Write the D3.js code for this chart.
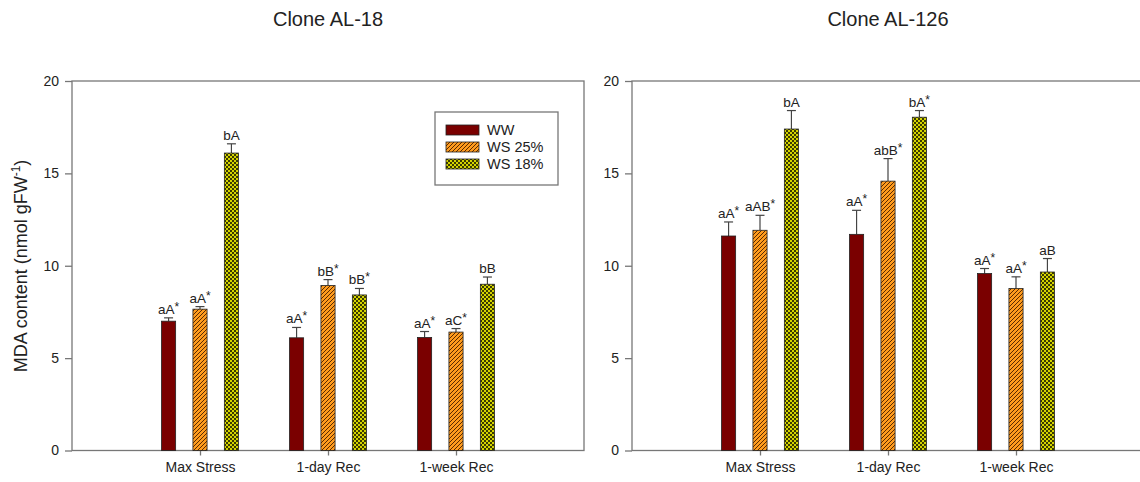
<!DOCTYPE html>
<html>
<head>
<meta charset="utf-8">
<script src="https://cdn.jsdelivr.net/npm/d3@7"></script>
<style>
  body { margin: 0; background: #fff; }
  svg { display: block; font-family: "Liberation Sans", Arial, sans-serif; }
</style>
</head>
<body>
<div id="root"></div>
<script>
// data
var categories = ['Max Stress', '1-day Rec', '1-week Rec']
var seriesNames = ['WW', 'WS 25%', 'WS 18%']
var yTicks = [0, 5, 10, 15, 20]

var al18Mean = [[7.0, 7.65, 16.1], [6.1, 8.93, 8.42], [6.12, 6.41, 9.0]]
var al18Err = [[0.18, 0.14, 0.5], [0.56, 0.32, 0.35], [0.32, 0.19, 0.39]]
var al18Lab = [['aA*', 'aA*', 'bA'], ['aA*', 'bB*', 'bB*'], ['aA*', 'aC*', 'bB']]

var al126Mean = [[11.61, 11.92, 17.4], [11.7, 14.58, 18.04], [9.58, 8.77, 9.66]]
var al126Err = [[0.76, 0.81, 1.0], [1.3, 1.22, 0.36], [0.27, 0.63, 0.73]]
var al126Lab = [['aA*', 'aAB*', 'bA'], ['aA*', 'abB*', 'bA*'], ['aA*', 'aA*', 'aB']]

var W = 1140, H = 482
var svg = d3.select('#root').append('svg').attr('width', W).attr('height', H)

var defs = svg.append('defs')
// orange hatch
var p1 = defs.append('pattern').attr('id', 'hatch').attr('patternUnits', 'userSpaceOnUse')
    .attr('width', 4).attr('height', 4)
p1.append('rect').attr('width', 4).attr('height', 4).attr('fill', '#ff9c1e')
p1.append('path').attr('d', 'M-1,1 l2,-2 M0,4 l4,-4 M3,5 l2,-2')
    .attr('stroke', '#5a2a00').attr('stroke-width', 1)
// green checker
var p2 = defs.append('pattern').attr('id', 'check').attr('patternUnits', 'userSpaceOnUse')
    .attr('width', 4).attr('height', 4)
p2.append('rect').attr('width', 4).attr('height', 4).attr('fill', '#d4d400')
p2.append('rect').attr('width', 2).attr('height', 2).attr('fill', '#3a3a00')
p2.append('rect').attr('x', 2).attr('y', 2).attr('width', 2).attr('height', 2).attr('fill', '#3a3a00')

var fills = ['#7a0000', 'url(#hatch)', 'url(#check)']
var axisCol = '#777'

function panel(x0, title, means, errs, labs) {
    var pw = 512, top = 81, bottom = 450.5
    var g = svg.append('g')
    var x = d3.scaleLinear().domain([0, 4]).range([x0, x0 + pw])
    var y = d3.scaleLinear().domain([0, 20]).range([bottom, top])
    var off = d3.scaleBand().domain(seriesNames).range([-38.5, 38.5]).paddingInner(0.55)

    g.append('text').attr('x', x0 + pw / 2).attr('y', 26).attr('text-anchor', 'middle')
        .attr('font-size', 20).attr('fill', '#222').text(title)

    // box
    g.append('rect').attr('x', x0).attr('y', top).attr('width', pw).attr('height', bottom - top)
        .attr('fill', 'none').attr('stroke', axisCol).attr('stroke-width', 1.3)

    var ya = g.append('g').attr('transform', 'translate(' + x0 + ',0)')
        .call(d3.axisLeft(y).tickValues(yTicks).tickSize(7).tickPadding(6))
    ya.select('.domain').remove()
    ya.selectAll('line').attr('stroke', axisCol).attr('stroke-width', 1.3)
    ya.selectAll('text').attr('font-size', 14).attr('fill', '#222').attr('font-family', null)

    var xa = g.append('g').attr('transform', 'translate(0,' + bottom + ')')
        .call(d3.axisBottom(x).tickValues([1, 2, 3]).tickSize(5).tickPadding(7)
            .tickFormat(function (d) { return categories[d - 1] }))
    xa.select('.domain').remove()
    xa.selectAll('line').attr('stroke', axisCol).attr('stroke-width', 1.3)
    xa.selectAll('text').attr('font-size', 14).attr('fill', '#222').attr('font-family', null)

    categories.forEach(function (c, ci) {
        seriesNames.forEach(function (s, si) {
            var bx = x(ci + 1) + off(s)
            var bw = off.bandwidth()
            var v = means[ci][si], e = errs[ci][si]
            var cx = bx + bw / 2
            g.append('line').attr('x1', cx).attr('x2', cx).attr('y1', y(v)).attr('y2', y(v + e))
                .attr('stroke', '#444').attr('stroke-width', 1.2)
            g.append('line').attr('x1', cx - 4.5).attr('x2', cx + 4.5).attr('y1', y(v + e)).attr('y2', y(v + e))
                .attr('stroke', '#444').attr('stroke-width', 1.2)
            g.append('rect').attr('x', bx).attr('y', y(v)).attr('width', bw).attr('height', bottom - y(v))
                .attr('fill', fills[si]).attr('stroke', '#222').attr('stroke-width', 0.8)
            var lab = labs[ci][si]
            var t = g.append('text').attr('x', cx).attr('y', y(v + e) - 4).attr('text-anchor', 'middle')
                .attr('font-size', 13.5).attr('fill', '#222')
            if (lab.slice(-1) == '*') {
                t.append('tspan').text(lab.slice(0, -1))
                t.append('tspan').attr('dy', -3).attr('font-size', 12).text('*')
            } else {
                t.text(lab)
            }
        })
    })
    return g
}

panel(72, 'Clone AL-18', al18Mean, al18Err, al18Lab)
panel(632, 'Clone AL-126', al126Mean, al126Err, al126Lab)

// legend
var lg = svg.append('g')
lg.append('rect').attr('x', 435).attr('y', 112).attr('width', 123).attr('height', 73)
    .attr('fill', '#fff').attr('stroke', axisCol).attr('stroke-width', 1.3)
seriesNames.forEach(function (s, i) {
    var yy = 125 + i * 17
    lg.append('rect').attr('x', 446).attr('y', yy).attr('width', 33).attr('height', 10)
        .attr('fill', fills[i]).attr('stroke', '#222').attr('stroke-width', 0.8)
    lg.append('text').attr('x', 487).attr('y', yy + 10).attr('font-size', 14.5).attr('fill', '#222').text(s)
})

// y label
svg.append('text').attr('transform', 'translate(27,266) rotate(-90)').attr('text-anchor', 'middle')
    .attr('font-size', 18).attr('fill', '#222')
    .call(function (t) {
        t.append('tspan').text('MDA content (nmol gFW')
        t.append('tspan').attr('dy', -7).attr('font-size', 12).text('-1')
        t.append('tspan').attr('dy', 7).text(')')
    })
</script>
</body>
</html>
